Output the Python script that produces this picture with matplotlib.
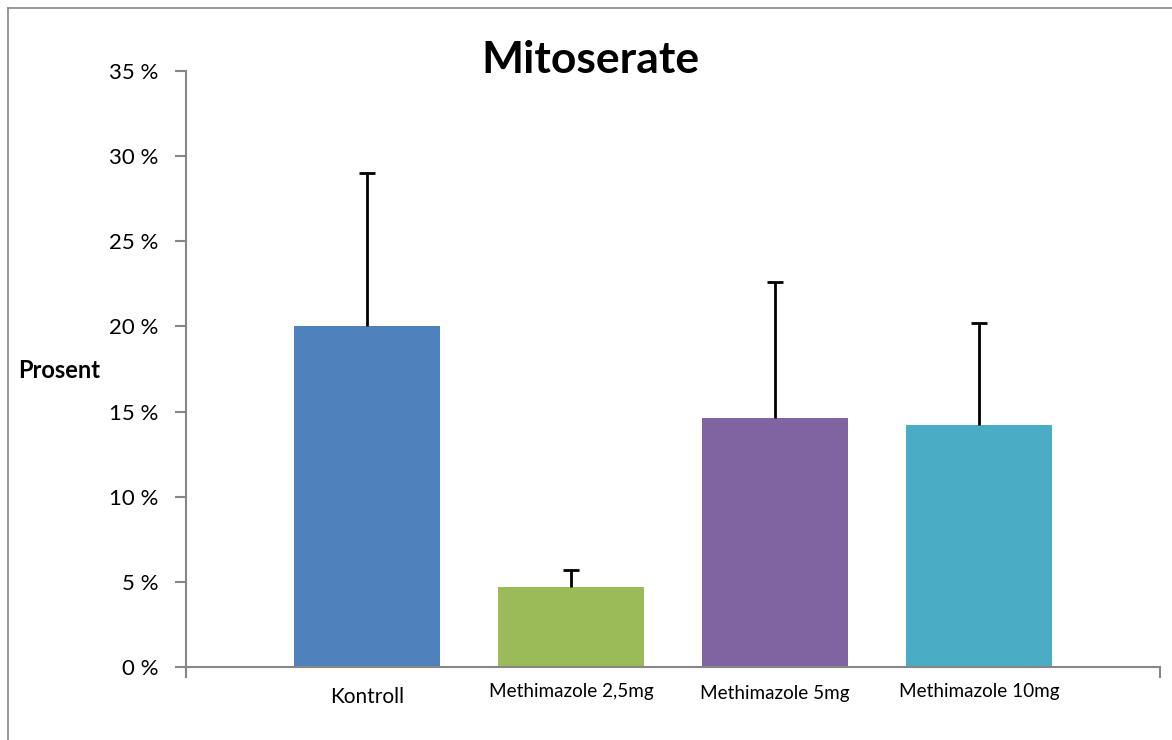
import numpy as np
import matplotlib.pyplot as plt
from matplotlib.lines import Line2D
from matplotlib.ticker import FuncFormatter

categories = ['Kontroll', 'Methimazole 2,5mg', 'Methimazole 5mg', 'Methimazole 10mg']
values = [20.0, 4.7, 14.6, 14.2]
errors = [9.0, 1.0, 8.0, 6.0]
colors = ['#4F81BD', '#9BBB59', '#8064A2', '#4BACC6']
yticks = [0, 5, 10, 15, 20, 25, 30, 35]

plt.rcParams['font.family'] = ['Lato', 'DejaVu Sans']
axis_gray = '#868686'

fig = plt.figure(figsize=(11.72, 7.40), dpi=100)
ax = fig.add_axes([186 / 1172, 1 - 667 / 740, (1160 - 186) / 1172, (667 - 71) / 740])

x = np.arange(len(categories))
ax.bar(x, values, width=0.716, color=colors, zorder=2)
# only the upper half of the error bar is shown
_, caps, _ = ax.errorbar(x, values, yerr=[np.zeros(len(errors)), errors], fmt='none',
                         ecolor='black', elinewidth=2, capsize=6, capthick=2, zorder=3)
caps[0].set_visible(False)  # lower caps

ax.set_xlim(-0.887, 3.887)
ax.set_ylim(0, 35)
ax.set_yticks(yticks)
ax.yaxis.set_major_formatter(FuncFormatter(lambda v, p: f'{v:.0f} %'))
ax.tick_params(axis='y', direction='out', length=8, width=1.5, color=axis_gray,
               labelsize=16, pad=12)

# x axis: ticks only at the two ends, labels drawn as text
ax.set_xticks([-0.887, 3.887])
ax.set_xticklabels([])
ax.tick_params(axis='x', direction='out', length=8, width=1.5, color=axis_gray)
label_dy = [-30, -25, -26, -25]
for xi, name, dy in zip(x, categories, label_dy):
    ax.annotate(name, xy=(xi, 0), xytext=(0, dy), textcoords='offset pixels',
                ha='center', va='center', fontsize=15 if xi == 0 else 13.6)

for side in ['top', 'right']:
    ax.spines[side].set_visible(False)
for side in ['left', 'bottom']:
    ax.spines[side].set_color(axis_gray)
    ax.spines[side].set_linewidth(1.5)

fig.text(590 / 1172, 1 - 60 / 740, 'Mitoserate', ha='center', va='center',
         fontsize=32, fontweight='bold')
fig.text(18 / 1172, 1 - 370 / 740, 'Prosent', ha='left', va='center',
         fontsize=17, fontweight='bold')

# chart border (left and top edges visible)
fig.add_artist(Line2D([7.5 / 1172, 7.5 / 1172], [0, 1 - 7.5 / 740],
                      transform=fig.transFigure, color=axis_gray, lw=1.2))
fig.add_artist(Line2D([7.5 / 1172, 1], [1 - 7.5 / 740, 1 - 7.5 / 740],
                      transform=fig.transFigure, color=axis_gray, lw=1.2))

fig.savefig('out.png', dpi=100)
